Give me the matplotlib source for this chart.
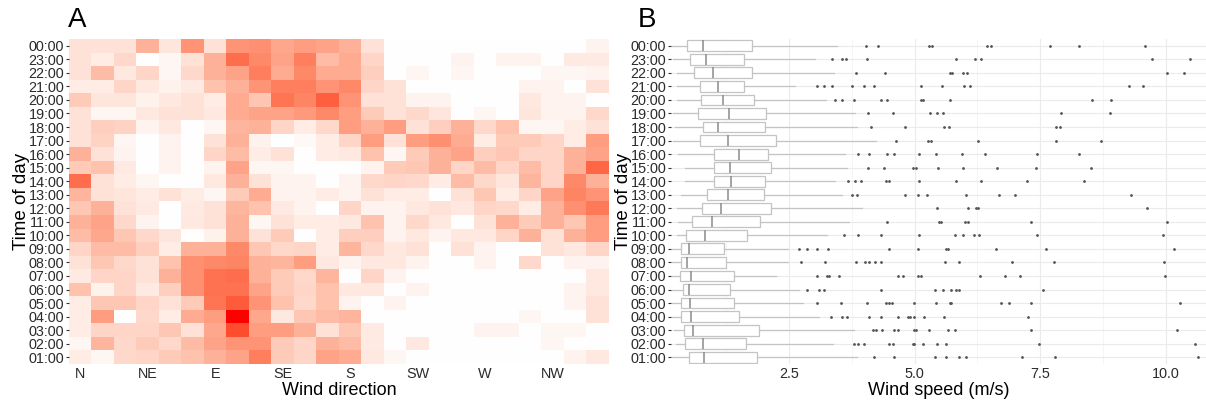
import numpy as np
import matplotlib
matplotlib.use("Agg")
import matplotlib.pyplot as plt
from matplotlib.colors import ListedColormap

plt.rcParams["font.family"] = ["Liberation Sans", "DejaVu Sans"]

# --- data ---
# rows listed top to bottom as shown in the chart
hours = ["00:00", "23:00", "22:00", "21:00", "20:00", "19:00", "18:00", "17:00",
         "16:00", "15:00", "14:00", "13:00", "12:00", "11:00", "10:00", "09:00",
         "08:00", "07:00", "06:00", "05:00", "04:00", "03:00", "02:00", "01:00"]

directions = ["N", "NE", "E", "SE", "S", "SW", "W", "NW"]   # every 3rd of 24 bins (15 deg)

# relative frequency per (hour, 15-degree direction bin), 0..10
heat = [
    [1.5, 1.5, 1.5, 4.0, 1.3, 5.5, 1.5, 5.5, 5.7, 4.5, 5.0, 4.7, 4.0, 1.5, 0, 0, 0, 0, 0, 0, 0, 0, 0, 0.6],
    [1.5, 1.0, 2.0, 0, 0.5, 1.5, 4.0, 7.2, 6.0, 4.7, 6.5, 3.5, 4.3, 2.2, 0, 0, 0, 0.6, 0, 0.6, 0.6, 0, 1.1, 1.1],
    [1.5, 3.5, 1.2, 2.2, 0.5, 2.0, 4.0, 4.7, 6.5, 4.3, 6.0, 4.3, 4.3, 2.5, 0, 0.5, 0, 0.5, 0, 0, 0, 0.5, 0.5, 0.6],
    [1.0, 1.0, 2.2, 1.2, 0.7, 1.1, 3.2, 4.0, 5.5, 6.5, 6.5, 5.5, 6.0, 2.2, 1.5, 0, 0, 0, 0, 0, 0.6, 0.6, 0, 1.5],
    [2.7, 1.3, 1.3, 0.7, 1.2, 1.5, 1.0, 4.3, 3.0, 6.9, 6.2, 7.8, 5.5, 1.5, 1.5, 0.6, 0.6, 0, 0, 0, 1.2, 0.6, 0.6, 0],
    [1.5, 0.5, 0.5, 1.2, 1.5, 1.5, 1.2, 4.3, 4.7, 4.7, 5.2, 6.0, 5.0, 2.7, 1.5, 2.0, 1.3, 0, 0.5, 0, 1.3, 0.6, 0.6, 2.0],
    [1.5, 2.5, 2.3, 0.6, 1.2, 0, 0.5, 3.8, 4.0, 2.2, 1.0, 2.0, 5.0, 4.0, 5.0, 1.5, 2.5, 4.0, 2.0, 3.2, 0.5, 0.5, 1.0, 1.5],
    [1.5, 2.3, 0.5, 0, 0.6, 0, 1.5, 4.0, 0.7, 0, 0.3, 1.0, 2.2, 5.0, 1.5, 5.0, 5.7, 4.3, 1.0, 2.7, 2.7, 2.2, 1.0, 5.0],
    [4.0, 1.5, 0.6, 0, 0.6, 0, 2.2, 3.5, 1.0, 1.5, 0, 1.0, 1.2, 3.2, 0.5, 2.7, 4.0, 4.7, 2.5, 2.9, 2.2, 2.2, 4.0, 4.7],
    [2.7, 3.2, 1.1, 0, 0.6, 0, 0.6, 4.7, 0.5, 0.5, 0, 0, 0, 0.6, 2.7, 2.9, 4.0, 2.2, 3.5, 2.2, 3.5, 2.2, 4.0, 7.5],
    [7.2, 1.5, 1.0, 0.5, 0, 0, 1.2, 4.0, 1.5, 0.6, 0.6, 0, 0.6, 2.0, 2.2, 2.0, 1.0, 3.5, 2.0, 1.3, 3.8, 2.2, 6.0, 4.0],
    [3.8, 1.5, 1.3, 1.0, 1.5, 1.0, 0.5, 2.7, 4.3, 0.6, 0.6, 1.0, 0.6, 1.5, 1.0, 1.0, 0, 1.5, 2.9, 1.0, 2.2, 4.7, 6.2, 5.5],
    [2.9, 4.0, 1.5, 1.1, 0, 1.1, 1.5, 3.8, 3.2, 1.1, 0.6, 0, 2.2, 0.6, 0.6, 1.2, 1.5, 1.2, 2.2, 2.0, 1.0, 4.0, 5.7, 6.7],
    [4.0, 4.7, 2.0, 0.6, 0, 1.2, 1.5, 4.0, 0.5, 1.5, 1.0, 1.0, 1.2, 3.2, 0.6, 2.0, 1.2, 0, 1.5, 4.0, 2.7, 4.0, 2.9, 5.0],
    [3.5, 4.5, 2.9, 2.0, 1.3, 0, 0.7, 4.0, 1.5, 2.7, 0, 1.0, 2.5, 2.5, 0.6, 1.2, 0.6, 1.2, 1.2, 2.2, 4.0, 1.5, 4.0, 5.0],
    [2.2, 3.5, 3.5, 2.5, 1.0, 4.0, 4.0, 6.0, 2.9, 2.0, 2.2, 1.0, 3.8, 2.0, 1.2, 1.5, 0, 1.5, 0.6, 0, 0, 1.5, 1.2, 2.2],
    [1.5, 2.9, 2.0, 1.5, 3.2, 5.7, 6.0, 6.2, 4.0, 3.8, 5.0, 1.2, 0.6, 1.2, 1.2, 0.6, 0, 0, 0.6, 0, 2.0, 0, 0.6, 0.6],
    [1.1, 2.2, 2.2, 1.5, 4.0, 5.7, 7.0, 7.2, 4.0, 2.7, 2.0, 3.8, 0, 2.2, 0.6, 0, 0, 0, 0, 0, 0, 0, 0, 1.2],
    [3.2, 0.7, 2.2, 1.1, 2.5, 5.7, 7.0, 7.0, 4.7, 2.7, 2.2, 3.2, 1.2, 1.2, 0, 0.6, 0, 0, 0, 0, 0, 0, 0.6, 1.2],
    [1.0, 2.9, 2.9, 2.2, 1.5, 2.7, 6.9, 8.0, 5.5, 3.2, 2.0, 3.2, 0.6, 0, 0.6, 0, 0, 0, 0, 0, 0, 0, 0.6, 1.5],
    [1.0, 5.0, 0, 2.0, 1.0, 4.3, 5.0, 10.0, 4.5, 1.2, 2.9, 3.5, 3.8, 0, 0, 0, 0, 0, 0, 0, 0.5, 0, 0, 1.5],
    [1.0, 2.2, 2.2, 2.2, 2.9, 1.5, 4.5, 8.5, 5.0, 5.0, 4.0, 1.5, 2.9, 1.1, 0, 0, 0, 0, 0.6, 0.6, 0, 0.5, 0.5, 0],
    [0.5, 3.8, 2.0, 2.7, 2.0, 3.5, 4.7, 5.5, 5.5, 2.7, 2.2, 4.0, 3.5, 1.1, 0, 1.2, 0, 0, 0, 0, 0, 0.5, 0, 0],
    [1.0, 0.5, 2.0, 2.2, 2.7, 3.2, 4.0, 4.7, 6.5, 2.7, 2.2, 4.7, 4.3, 1.2, 0.5, 0, 0, 0, 0, 0, 0, 0, 0.6, 1.2],
]

# wind speed box statistics per hour (m/s), same row order
whislo = [0.16, 0.18, 0.26, 0.27, 0.26, 0.18, 0.22, 0.18, 0.28, 0.42, 0.42, 0.34,
          0.26, 0.28, 0.26, 0.16, 0.16, 0.16, 0.16, 0.16, 0.16, 0.21, 0.24, 0.16]
q1 = [0.47, 0.52, 0.60, 0.72, 0.75, 0.69, 0.79, 0.72, 1.00, 1.00, 1.01, 0.87,
      0.77, 0.57, 0.45, 0.34, 0.35, 0.32, 0.38, 0.34, 0.35, 0.40, 0.42, 0.50]
med = [0.78, 0.85, 0.98, 1.08, 1.18, 1.30, 1.09, 1.28, 1.50, 1.33, 1.35, 1.28,
       1.15, 0.97, 0.83, 0.50, 0.46, 0.54, 0.50, 0.52, 0.54, 0.58, 0.78, 0.81]
q3 = [1.77, 1.61, 1.77, 1.61, 1.81, 2.04, 2.03, 2.24, 2.09, 2.14, 2.03, 2.01,
      2.14, 1.93, 1.67, 1.20, 1.24, 1.40, 1.32, 1.41, 1.50, 1.91, 1.64, 1.87]
whishi = [3.45, 3.02, 3.40, 2.62, 3.24, 3.81, 3.86, 4.24, 3.61, 3.65, 3.42, 3.55,
          3.96, 3.69, 3.25, 2.48, 2.48, 2.24, 2.70, 2.77, 3.10, 3.80, 3.38, 3.86]
outliers = [
    [4.04, 4.28, 5.28, 5.35, 6.44, 6.53, 7.70, 8.28, 9.58],
    [3.35, 3.56, 3.63, 4.06, 5.83, 6.20, 6.33, 9.72, 10.48],
    [3.83, 4.41, 5.70, 5.75, 5.96, 6.04, 10.02, 10.37],
    [3.06, 3.20, 3.35, 3.76, 3.99, 4.19, 5.12, 5.55, 5.98, 6.10, 9.27, 9.55],
    [3.42, 3.56, 3.80, 4.33, 4.45, 5.12, 5.16, 5.71, 8.53, 8.90],
    [4.08, 4.56, 5.30, 5.44, 5.57, 7.92, 8.89],
    [4.14, 4.80, 5.59, 5.68, 7.81, 7.89],
    [4.63, 5.26, 5.33, 6.27, 7.82, 8.70],
    [3.88, 4.09, 4.44, 4.59, 5.08, 5.42, 5.94, 6.41, 7.43, 8.27],
    [4.08, 4.40, 4.96, 5.02, 5.47, 5.96, 6.64, 7.41, 8.52],
    [3.68, 3.81, 3.93, 4.42, 4.49, 5.08, 5.82, 6.33, 7.23, 8.37],
    [3.76, 3.85, 4.80, 5.07, 5.25, 6.02, 6.68, 7.00, 9.31],
    [5.45, 6.07, 6.22, 6.26, 9.62],
    [4.44, 5.49, 5.53, 6.00, 6.07, 7.31, 10.02],
    [3.59, 3.88, 4.34, 5.08, 5.80, 5.96, 6.18, 6.29, 7.43, 9.94],
    [2.70, 2.85, 3.05, 3.27, 4.49, 5.06, 5.62, 5.67, 6.61, 7.61, 10.17],
    [2.74, 3.22, 3.83, 4.01, 4.10, 4.21, 4.34, 5.60, 5.88, 6.93, 7.78, 9.97],
    [3.06, 3.25, 3.30, 3.50, 4.66, 4.76, 5.06, 5.12, 6.30, 6.80, 7.09, 9.98],
    [2.85, 3.10, 3.20, 4.34, 5.40, 5.57, 5.72, 5.83, 5.88, 7.55],
    [3.06, 3.53, 4.06, 4.42, 4.49, 4.54, 4.98, 5.42, 5.71, 5.73, 6.72, 6.87, 7.31, 10.28],
    [3.33, 3.56, 3.65, 4.10, 4.33, 4.67, 4.87, 4.90, 4.98, 5.18, 5.58, 7.25],
    [4.18, 4.23, 4.35, 4.59, 4.66, 4.98, 5.02, 5.29, 5.67, 5.80, 7.32, 10.23],
    [3.79, 3.88, 3.99, 4.49, 4.56, 4.96, 4.98, 5.17, 5.45, 5.62, 7.47, 10.58],
    [4.20, 4.59, 5.40, 5.62, 5.88, 6.02, 7.14, 7.79, 10.64],
]
speed_ticks = [2.5, 5.0, 7.5, 10.0]


def white_red_lab(n=256):
    # white -> red interpolated in CIE Lab (like ggplot's gradient)
    t = np.linspace(0, 1, n)
    L = 100 + (53.24 - 100) * t
    a = 80.09 * t
    b = 67.20 * t
    fy = (L + 16) / 116
    fx = fy + a / 500
    fz = fy - b / 200

    def finv(v):
        return np.where(v > 6 / 29, v ** 3, 3 * (6 / 29) ** 2 * (v - 4 / 29))

    xyz = np.vstack([0.95047 * finv(fx), finv(fy), 1.08883 * finv(fz)])
    m = np.array([[3.2406, -1.5372, -0.4986],
                  [-0.9689, 1.8758, 0.0415],
                  [0.0557, -0.2040, 1.0570]])
    lin = np.clip(m @ xyz, 0, 1)
    rgb = np.where(lin <= 0.0031308, 12.92 * lin, 1.055 * lin ** (1 / 2.4) - 0.055)
    return ListedColormap(np.clip(rgb.T, 0, 1))


n = len(hours)
ypos = np.arange(n)[::-1]          # first row on top
tick_col = "#2b2b2b"
tick_size = 10.4

fig = plt.figure(figsize=(12.06, 4.03), dpi=100)
axA = fig.add_axes([69 / 1206, 39 / 403, 540 / 1206, 325 / 403])
axB = fig.add_axes([671 / 1206, 39 / 403, 535 / 1206, 325 / 403])

# --- panel A: heatmap ---
arr = np.array(heat)
axA.imshow(arr, cmap=white_red_lab(), vmin=0, vmax=10, aspect="auto",
           interpolation="nearest", extent=(-0.5, arr.shape[1] - 0.5, -0.5, n - 0.5),
           origin="upper")
axA.set_xlim(-0.5, arr.shape[1] - 0.5)
axA.set_ylim(-0.5, n - 0.5)
axA.set_xticks(np.arange(0, 24, 3))
axA.set_xticklabels(directions)
axA.set_yticks(ypos)
axA.set_yticklabels(hours)
axA.set_xlabel("Wind direction", fontsize=13, labelpad=1)
axA.set_ylabel("Time of day", fontsize=13.5, labelpad=-1)
axA.tick_params(axis="x", length=0, pad=2, labelsize=tick_size, labelcolor=tick_col)
axA.tick_params(axis="y", length=2.5, width=0.8, color="#333333", pad=1,
                labelsize=tick_size, labelcolor=tick_col)
for s in axA.spines.values():
    s.set_visible(False)
fig.text(68 / 1206, 1 - 20 / 403, "A", fontsize=20, va="center", ha="left")

# --- panel B: boxplots ---
stats = []
for i in range(n):
    stats.append(dict(whislo=whislo[i], q1=q1[i], med=med[i], q3=q3[i],
                      whishi=whishi[i], fliers=outliers[i]))
axB.set_axisbelow(True)
axB.bxp(stats, positions=ypos, vert=False, widths=0.8, patch_artist=True,
        showcaps=False,
        boxprops=dict(facecolor="white", edgecolor="#c4c4c4", linewidth=0.9),
        medianprops=dict(color="#8a8a8a", linewidth=1.1),
        whiskerprops=dict(color="#c4c4c4", linewidth=0.9),
        flierprops=dict(marker="o", markersize=1.0, markerfacecolor="#555555",
                        markeredgecolor="#555555", linestyle="none"))
axB.set_xlim(0.15, 10.8)
axB.set_ylim(-0.5, n - 0.5)
axB.set_xticks(speed_ticks)
axB.set_xticklabels([f"{v:.1f}" for v in speed_ticks])
axB.set_xticks([1.25, 3.75, 6.25, 8.75], minor=True)
axB.set_yticks(ypos)
axB.set_yticklabels(hours)
axB.grid(True, which="major", color="#ebebeb", linewidth=0.8)
axB.grid(True, which="minor", axis="x", color="#f4f4f4", linewidth=0.6)
axB.set_xlabel("Wind speed (m/s)", fontsize=13, labelpad=1)
axB.set_ylabel("Time of day", fontsize=13.5, labelpad=-1)
axB.tick_params(axis="x", which="both", length=0, pad=2, labelsize=tick_size, labelcolor=tick_col)
axB.tick_params(axis="y", length=2.5, width=0.8, color="#333333", pad=1,
                labelsize=tick_size, labelcolor=tick_col)
for s in axB.spines.values():
    s.set_visible(False)
fig.text(638 / 1206, 1 - 20 / 403, "B", fontsize=20, va="center", ha="left")

fig.savefig("out.png", dpi=100)
